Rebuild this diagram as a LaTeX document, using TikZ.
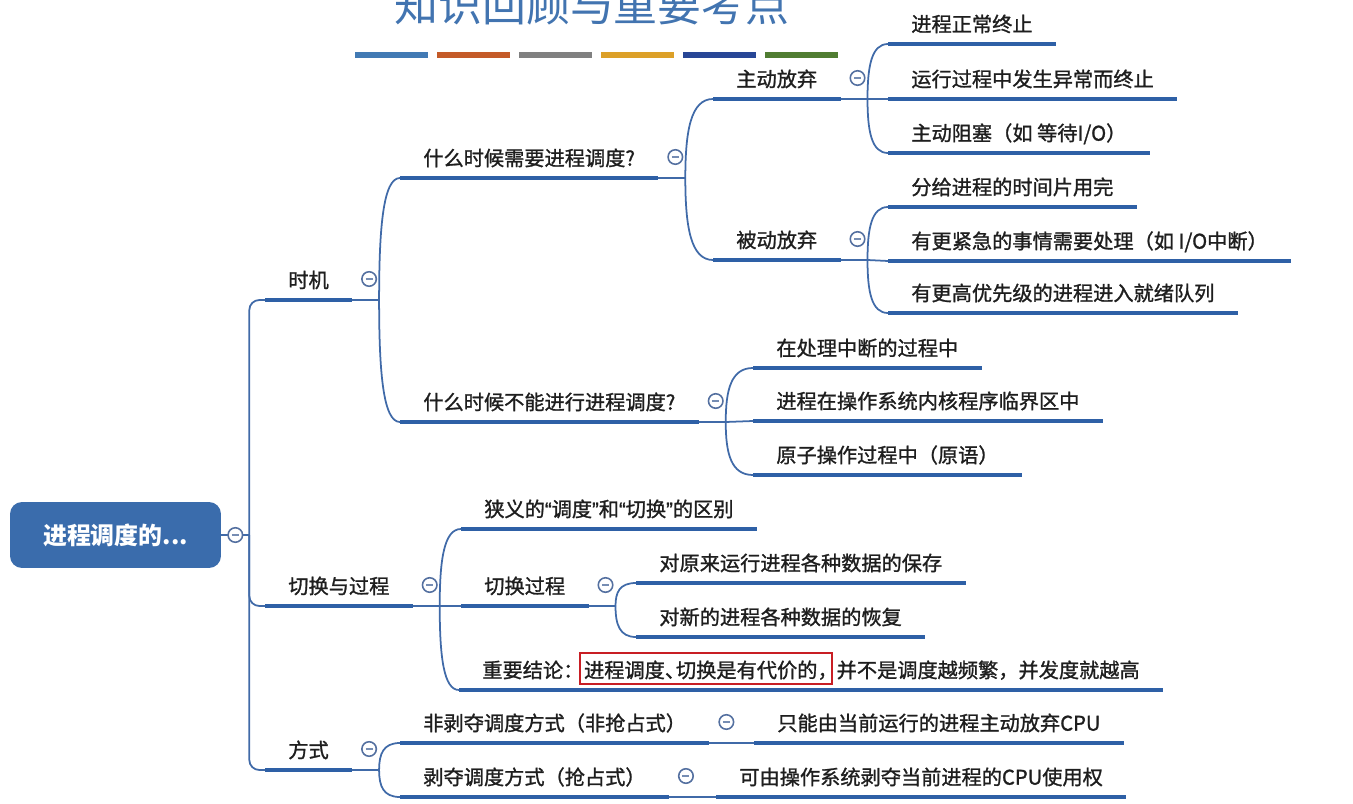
\documentclass[tikz,border=0pt]{standalone}
\usepackage{fontspec}
\setmainfont{Noto Sans CJK SC}
\newfontfamily\topicfont[FakeBold=1.2]{Noto Sans CJK SC}
\newfontfamily\quotefont[FakeBold=1.2]{Liberation Sans}
\usepackage{xcolor}
\usetikzlibrary{positioning,calc}
\definecolor{lineBlue}{RGB}{46,96,166}
\definecolor{twigBlue}{RGB}{64,106,168}
\definecolor{rootBlue}{RGB}{58,108,172}
\definecolor{knobBlue}{RGB}{84,112,160}
\definecolor{titleBlue}{RGB}{66,116,176}
\definecolor{markRed}{RGB}{200,30,36}
\definecolor{textDark}{RGB}{30,30,30}
\definecolor{barA}{RGB}{66,122,180}
\definecolor{barB}{RGB}{196,90,40}
\definecolor{barC}{RGB}{128,128,128}
\definecolor{barD}{RGB}{220,160,40}
\definecolor{barE}{RGB}{40,70,150}
\definecolor{barF}{RGB}{80,125,50}

\newcommand{\halfpunct}[2][0.55em]{\makebox[#1][l]{#2}}

\tikzset{
    topic/.style={
        anchor=south west,
        font=\topicfont\fontsize{11.5pt}{14pt}\selectfont,
        text=textDark,
        inner xsep=0.46cm,
        inner ysep=0pt,
        text height=0.36cm,
        text depth=0.24cm
    },
    rootbox/.style={
        rectangle,
        rounded corners=0.24cm,
        fill=rootBlue,
        text=white,
        font=\fontsize{13.6pt}{16pt}\selectfont\bfseries,
        minimum width=4.22cm,
        minimum height=1.32cm
    },
    knob/.style={
        circle,
        draw=knobBlue,
        fill=white,
        line width=0.9pt,
        minimum size=0.29cm,
        inner sep=0pt,
        path picture={\draw[knobBlue!80, line width=0.9pt]
            ([xshift=-0.07cm]path picture bounding box.center) --
            ([xshift=0.07cm]path picture bounding box.center);}
    },
    uline/.style={draw=lineBlue, line width=2.6pt},
    twig/.style={draw=twigBlue, line width=1pt},
    branch/.style={
        to path={.. controls ($(\tikztostart)!0.6!(\tikztostart |- \tikztotarget)$)
            and ($(\tikztotarget)!0.8!(\tikztostart |- \tikztotarget)$) .. (\tikztotarget)}
    }
}

\begin{document}
\begin{tikzpicture}[x=0.02cm, y=-0.02cm]
    \useasboundingbox (0,0) rectangle (1353,804);

    % title and colour bars
    \node[anchor=base, font=\fontsize{25pt}{30pt}\selectfont, text=titleBlue] (title) at (592,22) {知识回顾与重要考点};
    \foreach \c [count=\i] in {barA,barB,barC,barD,barE,barF}
        \fill[\c] ({355+(\i-1)*82},52) rectangle +(73,6);

    % root
    \node[rootbox] (root) at (115.5,535) {进程调度的...};
    \coordinate (trunk) at ([xshift=0.56cm]root.east);

    % first level
    \node[topic] (shiji) at (265,300) {时机};
    \node[topic] (qiehuan) at (265,606) {切换与过程};
    \node[topic] (fangshi) at (265,770) {方式};

    % timing
    \node[topic] (need) at (400,178) {什么时候需要进程调度?};
    \node[topic] (cannot) at (400,422) {什么时候不能进行进程调度?};
    \node[topic] (zhudong) at (713,99) {主动放弃};
    \node[topic] (beidong) at (713,260) {被动放弃};
    \node[topic] (z1) at (888,44) {进程正常终止};
    \node[topic] (z2) at (888,99) {运行过程中发生异常而终止};
    \node[topic] (z3) at (888,153) {主动阻塞（如 等待I/O）};
    \node[topic] (b1) at (888,207) {分给进程的时间片用完};
    \node[topic] (b2) at (888,261) {有更紧急的事情需要处理（如 I/O中断）};
    \node[topic] (b3) at (888,313) {有更高优先级的进程进入就绪队列};
    \node[topic] (c1) at (753,368) {在处理中断的过程中};
    \node[topic] (c2) at (753,421) {进程在操作系统内核程序临界区中};
    \node[topic] (c3) at (753,475) {原子操作过程中（原语）};

    % switching
    \node[topic] (narrow) at (461,529) {狭义的{\quotefont“}调度{\quotefont”}和{\quotefont“}切换{\quotefont”}的区别};
    \node[topic] (guocheng) at (461,606) {切换过程};
    \node[topic] (g1) at (636,583) {对原来运行进程各种数据的保存};
    \node[topic] (g2) at (636,637) {对新的进程各种数据的恢复};
    \node[topic] (jielun) at (459,690) {重要结论\halfpunct[0.8em]{：}{\setlength{\fboxsep}{1.5pt}\setlength{\fboxrule}{1.2pt}\fcolorbox{markRed}{white}{\rule[-0.05cm]{0pt}{0.47cm}进程调度\halfpunct{、}切换是有代价的\halfpunct{，}}}\,并不是调度越频繁，并发度就越高};

    % manner
    \node[topic] (fei) at (400,743) {非剥夺调度方式（非抢占式）};
    \node[topic] (bo) at (400,797) {剥夺调度方式（抢占式）};
    \node[topic] (fei1) at (754,743) {只能由当前运行的进程主动放弃CPU};
    \node[topic] (bo1) at (716,797) {可由操作系统剥夺当前进程的CPU使用权};

    \foreach \n in {shiji,qiehuan,fangshi,need,cannot,zhudong,beidong,z1,z2,z3,b1,b2,b3,
                    c1,c2,c3,narrow,guocheng,g1,g2,jielun,fei,bo,fei1,bo1}
        \draw[uline] (\n.south west) -- (\n.south east);

    % branch points
    \coordinate (bshiji) at ([xshift=0.54cm]shiji.south east);
    \coordinate (bneed) at ([xshift=0.54cm]need.south east);
    \coordinate (bzhu) at ([xshift=0.54cm]zhudong.south east);
    \coordinate (bbei) at ([xshift=0.54cm]beidong.south east);
    \coordinate (bcan) at ([xshift=0.54cm]cannot.south east);
    \coordinate (bqie) at ([xshift=0.54cm]qiehuan.south east);
    \coordinate (bguo) at ([xshift=0.54cm]guocheng.south east);
    \coordinate (bfang) at ([xshift=0.54cm]fangshi.south east);

    \draw[twig] (root.east) -- (trunk);
    \draw[twig, rounded corners=0.2cm] (trunk) |- (shiji.south west);
    \draw[twig, rounded corners=0.2cm] (trunk) |- (qiehuan.south west);
    \draw[twig, rounded corners=0.2cm] (trunk) |- (fangshi.south west);

    \draw[twig] (shiji.south east) -- (bshiji);
    \draw[twig] (bshiji) to[branch] (need.south west);
    \draw[twig] (bshiji) to[branch] (cannot.south west);

    \draw[twig] (need.south east) -- (bneed);
    \draw[twig] (bneed) to[branch] (zhudong.south west);
    \draw[twig] (bneed) to[branch] (beidong.south west);

    \draw[twig] (zhudong.south east) -- (bzhu);
    \draw[twig] (bzhu) to[branch] (z1.south west);
    \draw[twig] (bzhu) -- (z2.south west);
    \draw[twig] (bzhu) to[branch] (z3.south west);

    \draw[twig] (beidong.south east) -- (bbei);
    \draw[twig] (bbei) to[branch] (b1.south west);
    \draw[twig] (bbei) -- (b2.south west);
    \draw[twig] (bbei) to[branch] (b3.south west);

    \draw[twig] (cannot.south east) -- (bcan);
    \draw[twig] (bcan) to[branch] (c1.south west);
    \draw[twig] (bcan) -- (c2.south west);
    \draw[twig] (bcan) to[branch] (c3.south west);

    \draw[twig] (qiehuan.south east) -- (bqie);
    \draw[twig] (bqie) to[branch] (narrow.south west);
    \draw[twig] (bqie) -- (guocheng.south west);
    \draw[twig] (bqie) to[branch] (jielun.south west);

    \draw[twig] (guocheng.south east) -- (bguo);
    \draw[twig] (bguo) to[branch] (g1.south west);
    \draw[twig] (bguo) to[branch] (g2.south west);

    \draw[twig] (fangshi.south east) -- (bfang);
    \draw[twig] (bfang) to[branch] (fei.south west);
    \draw[twig] (bfang) to[branch] (bo.south west);

    \draw[twig] (fei.south east) -- (fei1.south west);
    \draw[twig] (bo.south east) -- (bo1.south west);

    % collapse knobs
    \node[knob] (kroot) at ([xshift=0.28cm]root.east) {};
    \node[knob] (kshiji) at ([xshift=0.34cm, yshift=0.42cm]shiji.south east) {};
    \node[knob] (kneed) at ([xshift=0.34cm, yshift=0.42cm]need.south east) {};
    \node[knob] (kzhu) at ([xshift=0.34cm, yshift=0.42cm]zhudong.south east) {};
    \node[knob] (kbei) at ([xshift=0.34cm, yshift=0.42cm]beidong.south east) {};
    \node[knob] (kcan) at ([xshift=0.34cm, yshift=0.42cm]cannot.south east) {};
    \node[knob] (kqie) at ([xshift=0.34cm, yshift=0.42cm]qiehuan.south east) {};
    \node[knob] (kguo) at ([xshift=0.34cm, yshift=0.42cm]guocheng.south east) {};
    \node[knob] (kfang) at ([xshift=0.34cm, yshift=0.42cm]fangshi.south east) {};
    \node[knob] (kfei) at ([xshift=0.34cm, yshift=0.42cm]fei.south east) {};
    \node[knob] (kbo) at ([xshift=0.34cm, yshift=0.42cm]bo.south east) {};
\end{tikzpicture}
\end{document}
